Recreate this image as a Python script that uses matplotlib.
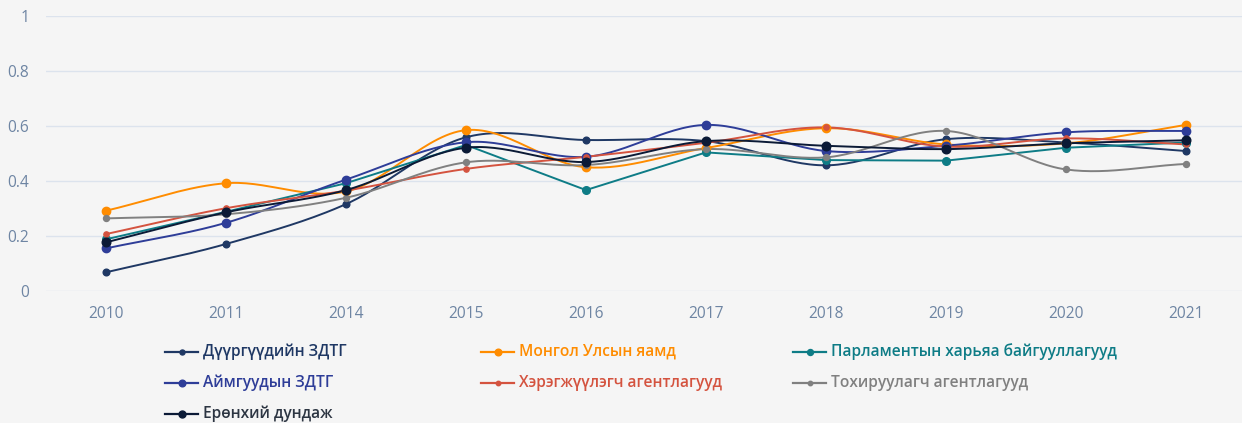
import numpy as np
import matplotlib
matplotlib.use("Agg")
import matplotlib.pyplot as plt
from matplotlib.lines import Line2D

plt.rcParams['font.family'] = ['Open Sans', 'DejaVu Sans']

years = ["2010", "2011", "2014", "2015", "2016", "2017", "2018", "2019", "2020", "2021"]

names = [
    "Дүүргүүдийн ЗДТГ",
    "Монгол Улсын яамд",
    "Парламентын харьяа байгууллагууд",
    "Аймгуудын ЗДТГ",
    "Хэрэгжүүлэгч агентлагууд",
    "Тохируулагч агентлагууд",
    "Ерөнхий дундаж",
]

duurguud = [0.068, 0.171, 0.316, 0.559, 0.549, 0.545, 0.457, 0.552, 0.540, 0.509]
yamd = [0.292, 0.392, 0.362, 0.585, 0.450, 0.520, 0.592, 0.533, 0.537, 0.604]
parlament = [0.188, 0.288, 0.392, 0.531, 0.367, 0.504, 0.476, 0.474, 0.521, 0.540]
aimag = [0.155, 0.248, 0.405, 0.541, 0.488, 0.604, 0.509, 0.528, 0.577, 0.582]
hereg = [0.207, 0.301, 0.365, 0.444, 0.488, 0.539, 0.595, 0.525, 0.555, 0.533]
tohir = [0.264, 0.279, 0.339, 0.468, 0.458, 0.516, 0.486, 0.582, 0.442, 0.462]
dundaj = [0.177, 0.286, 0.367, 0.521, 0.469, 0.545, 0.528, 0.516, 0.537, 0.548]

series = [duurguud, yamd, parlament, aimag, hereg, tohir, dundaj]
colors = ["#1f3864", "#ff8c00", "#0e7c86", "#2e3d98", "#d4533f", "#808080", "#0b1a36"]
text_colors = ["#1f3864", "#ff8c00", "#0e7c86", "#2e3d98", "#d4533f", "#808080", "#2c3542"]
msizes = [4.8, 6.0, 5.5, 6.0, 3.8, 4.3, 6.2]
smooth = [True, True, False, True, True, True, True]


def spline(xs, ys, n=30, t=0.5):
    xs = np.asarray(xs, float)
    ys = np.asarray(ys, float)
    px = np.concatenate([[2 * xs[0] - xs[1]], xs, [2 * xs[-1] - xs[-2]]])
    py = np.concatenate([[2 * ys[0] - ys[1]], ys, [2 * ys[-1] - ys[-2]]])
    ox, oy = [], []
    for i in range(1, len(px) - 2):
        x0, x1, x2, x3 = px[i - 1:i + 3]
        y0, y1, y2, y3 = py[i - 1:i + 3]
        m1x, m1y = t * (x2 - x0), t * (y2 - y0)
        m2x, m2y = t * (x3 - x1), t * (y3 - y1)
        s = np.linspace(0, 1, n, endpoint=(i == len(px) - 3))
        h00 = 2 * s**3 - 3 * s**2 + 1
        h10 = s**3 - 2 * s**2 + s
        h01 = -2 * s**3 + 3 * s**2
        h11 = s**3 - s**2
        ox.append(h00 * x1 + h10 * m1x + h01 * x2 + h11 * m2x)
        oy.append(h00 * y1 + h10 * m1y + h01 * y2 + h11 * m2y)
    return np.concatenate(ox), np.concatenate(oy)


W, H = 1242, 423
fig = plt.figure(figsize=(W / 100, H / 100), dpi=100)
bg = "#f5f5f5"
fig.patch.set_facecolor(bg)

left, right = 46, 1246
top, bottom = 16, 291
ax = fig.add_axes([left / W, 1 - bottom / H, (right - left) / W, (bottom - top) / H])
ax.set_facecolor(bg)

x = np.arange(len(years))
for vals, c, ms, sm in zip(series, colors, msizes, smooth):
    if sm:
        sx, sy = spline(x, vals)
        ax.plot(sx, sy, color=c, lw=1.4, clip_on=False, zorder=3)
    else:
        ax.plot(x, vals, color=c, lw=1.4, clip_on=False, zorder=3)
    ax.plot(x, vals, ls="none", marker="o", ms=ms, color=c, clip_on=False, zorder=4)

ax.set_xlim(-0.5, 9.5)
ax.set_ylim(0, 1)
ax.set_xticks(x)
ax.set_xticklabels(years)
ax.set_yticks([0, 0.2, 0.4, 0.6, 0.8, 1])
ax.set_yticklabels(["0", "0.2", "0.4", "0.6", "0.8", "1"])
ax.grid(axis="y", color="#dce3ed", lw=1.0)
ax.set_axisbelow(True)
for s in ax.spines.values():
    s.set_visible(False)
ax.tick_params(axis="both", length=0, labelsize=11.2, colors="#6e85a3")
ax.tick_params(axis="x", pad=11)
ax.tick_params(axis="y", pad=12)

# legend
cols = [165, 481, 793]
rows = [352, 383, 414]
positions = [(0, 0), (1, 0), (2, 0), (0, 1), (1, 1), (2, 1), (0, 2)]
for i, (ci, ri) in enumerate(positions):
    x0 = cols[ci]
    yy = 1 - rows[ri] / H
    fig.add_artist(Line2D([x0 / W, (x0 + 33) / W], [yy, yy], color=colors[i], lw=1.6,
                          transform=fig.transFigure))
    fig.add_artist(Line2D([(x0 + 16.5) / W], [yy], color=colors[i], marker="o",
                          ms=max(msizes[i] - 1.2, 3.2), transform=fig.transFigure))
    fig.text((x0 + 38) / W, yy, names[i], color=text_colors[i], fontsize=11.2,
             fontweight="semibold", va="center", ha="left")

fig.savefig("out.png", dpi=100, facecolor=bg)
